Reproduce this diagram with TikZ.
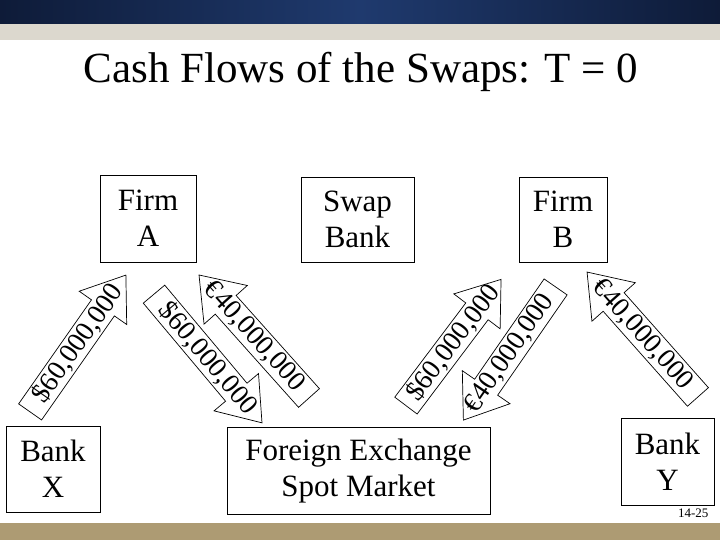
\documentclass[tikz,border=0pt]{standalone}
\usepackage{fontspec}
\setmainfont{Liberation Serif}
\definecolor{bandblue}{RGB}{31,58,110}
\definecolor{banddark}{RGB}{14,27,56}
\definecolor{bandgray}{RGB}{220,216,206}
\definecolor{bandtan}{RGB}{173,155,115}
% block arrow: name, centre, direction, length, text rotation, text
\newcommand\flowarrow[6]{%
  \begin{scope}[shift={(#2)}, rotate=#3]
    \pgfmathsetmacro\flowA{#4/2}%
    \pgfmathsetmacro\flowB{#4/2-40}%
    \draw[flowline] (-\flowA,-14) -- (\flowB,-14) -- (\flowB,-29) -- (\flowA,0)
      -- (\flowB,29) -- (\flowB,14) -- (-\flowA,14) -- cycle;
  \end{scope}
  \node[flowtext, rotate=#5] (#1) at (#2) {#6};
}
\begin{document}
\begin{tikzpicture}[x=1pt,y=-1pt,
  box/.style={draw, line width=0.8pt, align=center, inner sep=0pt,
    font=\fontsize{31}{36}\selectfont},
  flowline/.style={draw, line width=0.7pt, line join=miter},
  flowtext/.style={inner sep=0pt, font=\fontsize{27.5}{30}\selectfont},
]
\useasboundingbox (0,0) rectangle (720,540);
\fill[white] (0,0) rectangle (720,540);
\shade[left color=banddark, right color=banddark, middle color=bandblue] (0,0) rectangle (720,24);
\fill[bandgray] (0,24) rectangle (720,40);
\fill[bandtan] (0,523) rectangle (720,540);

\node[font=\fontsize{43}{50}\selectfont, anchor=base] (title) at (361,83) {Cash Flows of the Swaps: T = 0};

\node[box, minimum width=96pt, minimum height=87pt] (firmA) at (148,218.5) {Firm\\A};
\node[box, minimum width=113pt, minimum height=85pt] (swap) at (357.5,219.5) {Swap\\Bank};
\node[box, minimum width=88pt, minimum height=85pt] (firmB) at (563,219.5) {Firm\\B};
\node[box, minimum width=94pt, minimum height=86pt] (bankX) at (53,469) {Bank\\X};
\node[box, minimum width=263pt, minimum height=87pt] (fx) at (358.5,471) {Foreign Exchange\\Spot Market};
\node[box, minimum width=93pt, minimum height=87pt] (bankY) at (667.5,461.5) {Bank\\Y};

\flowarrow{a1}{78,343.5}{55}{167}{55}{\$60,000,000}
\flowarrow{a2}{208,358.5}{-50}{168}{-50}{\$60,000,000}
\flowarrow{a3}{254,336.5}{131.8}{165}{-48.2}{€40,000,000}
\flowarrow{a4}{453.5,342.5}{53}{158}{53}{\$60,000,000}
\flowarrow{a5}{509.5,353.5}{-124.7}{162}{55.3}{€40,000,000}
\flowarrow{a6}{642.5,334.5}{131.6}{167}{-48.4}{€40,000,000}

\node[font=\fontsize{13}{15}\selectfont, anchor=base east] (page) at (712,517) {14-25};
\end{tikzpicture}
\end{document}
